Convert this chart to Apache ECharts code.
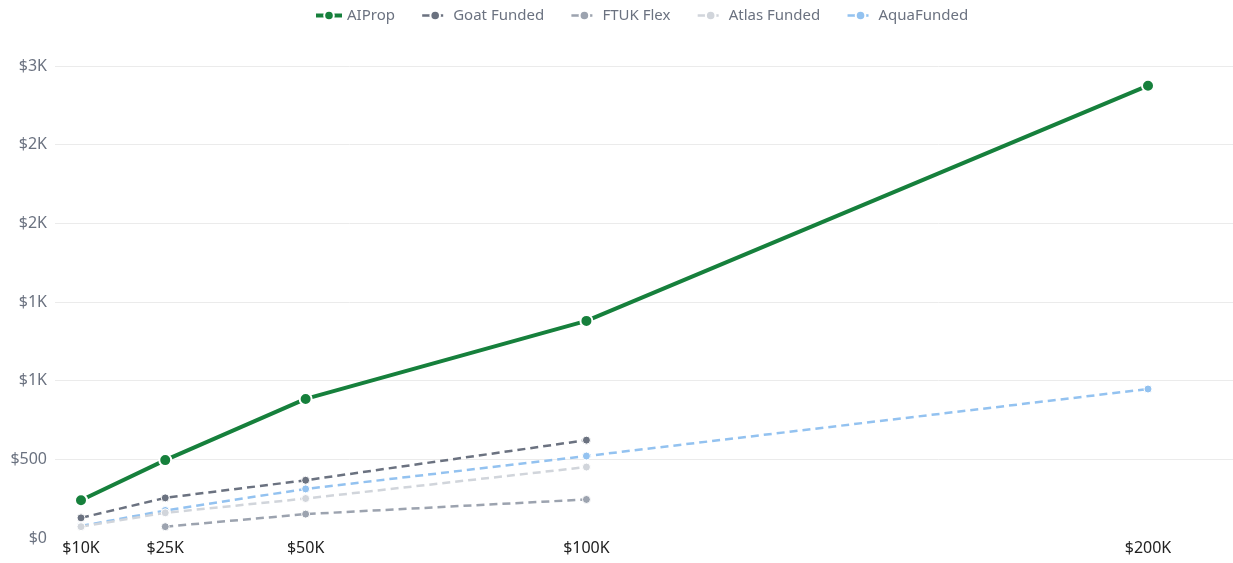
<!DOCTYPE html>
<html>
<head>
<meta charset="utf-8">
<script src="https://cdn.jsdelivr.net/npm/echarts@6/dist/echarts.min.js"></script>
<style>
html,body{margin:0;padding:0;background:#fff;}
#chart{width:1233px;height:563px;}
</style>
</head>
<body>
<div id="chart"></div>
<script>
const accountSizes = [10000, 25000, 50000, 100000, 200000];
const xTickLabels = ['$10K', '$25K', '$50K', '$100K', '$200K'];
const yTicks = [0, 500, 1000, 1500, 2000, 2500, 3000];

const aiprop      = [240, 495, 884, 1380, 2875];
const goatFunded  = [128, 255, 367, 622, null];
const ftukFlex    = [null, 72, 152, 245, null];
const atlasFunded = [72, 160, 251, 451, null];
const aquaFunded  = [76, 175, 312, 521, 947];

const seriesNames = ['AIProp', 'Goat Funded', 'FTUK Flex', 'Atlas Funded', 'AquaFunded'];
const seriesValues = [aiprop, goatFunded, ftukFlex, atlasFunded, aquaFunded];
const colors = ['#16803c', '#6b7280', '#9ca3af', '#d1d5db', '#93c2f0'];

function pairs(vals) {
  const out = [];
  vals.forEach((v, i) => { if (v !== null) out.push([accountSizes[i], v]); });
  return out;
}

const series = seriesNames.map((name, i) => {
  const main = i === 0;
  return {
    name: name,
    type: 'line',
    data: pairs(seriesValues[i]),
    symbol: 'circle',
    symbolSize: main ? 12 : 8,
    showSymbol: true,
    z: main ? 10 : 5 - i,
    lineStyle: main ? { color: colors[i], width: 4 } : { color: colors[i], width: 2.5, type: [8, 5] },
    itemStyle: { color: colors[i], borderColor: '#fff', borderWidth: main ? 2 : 1 },
    emphasis: { disabled: true }
  };
});

const legendData = seriesNames.map((name, i) => ({
  name: name,
  lineStyle: i === 0 ? { width: 4 } : { width: 2.5 }
}));

const chart = echarts.init(document.getElementById('chart'));
chart.setOption({
  animation: false,
  color: colors,
  legend: {
    top: 3,
    left: 309,
    itemWidth: 26,
    itemHeight: 12,
    itemGap: 26,
    textStyle: { color: '#6b7280', fontSize: 15, fontFamily: 'Noto Sans' },
    data: legendData
  },
  grid: { left: 55, right: 0, top: 66, bottom: 25, containLabel: false },
  xAxis: {
    type: 'value',
    min: 5370,
    max: 215135,
    axisLine: { show: false },
    axisTick: { show: false },
    splitLine: { show: false },
    axisLabel: {
      customValues: accountSizes,
      formatter: v => xTickLabels[accountSizes.indexOf(v)] || '',
      color: '#222',
      fontSize: 16,
      fontFamily: 'Noto Sans',
      margin: 2,
      verticalAlign: 'top'
    }
  },
  yAxis: {
    type: 'value',
    min: 0,
    max: 3000,
    interval: 500,
    axisLine: { show: false },
    axisTick: { show: false },
    splitLine: { showMinLine: false, lineStyle: { color: '#ebebeb', width: 1 } },
    axisLabel: {
      customValues: yTicks,
      formatter: v => v >= 1000 ? '$' + Math.floor(v / 1000) + 'K' : '$' + v,
      color: '#6b7280',
      fontSize: 16,
      fontFamily: 'Noto Sans',
      margin: 8
    }
  },
  series: series
});
</script>
</body>
</html>
